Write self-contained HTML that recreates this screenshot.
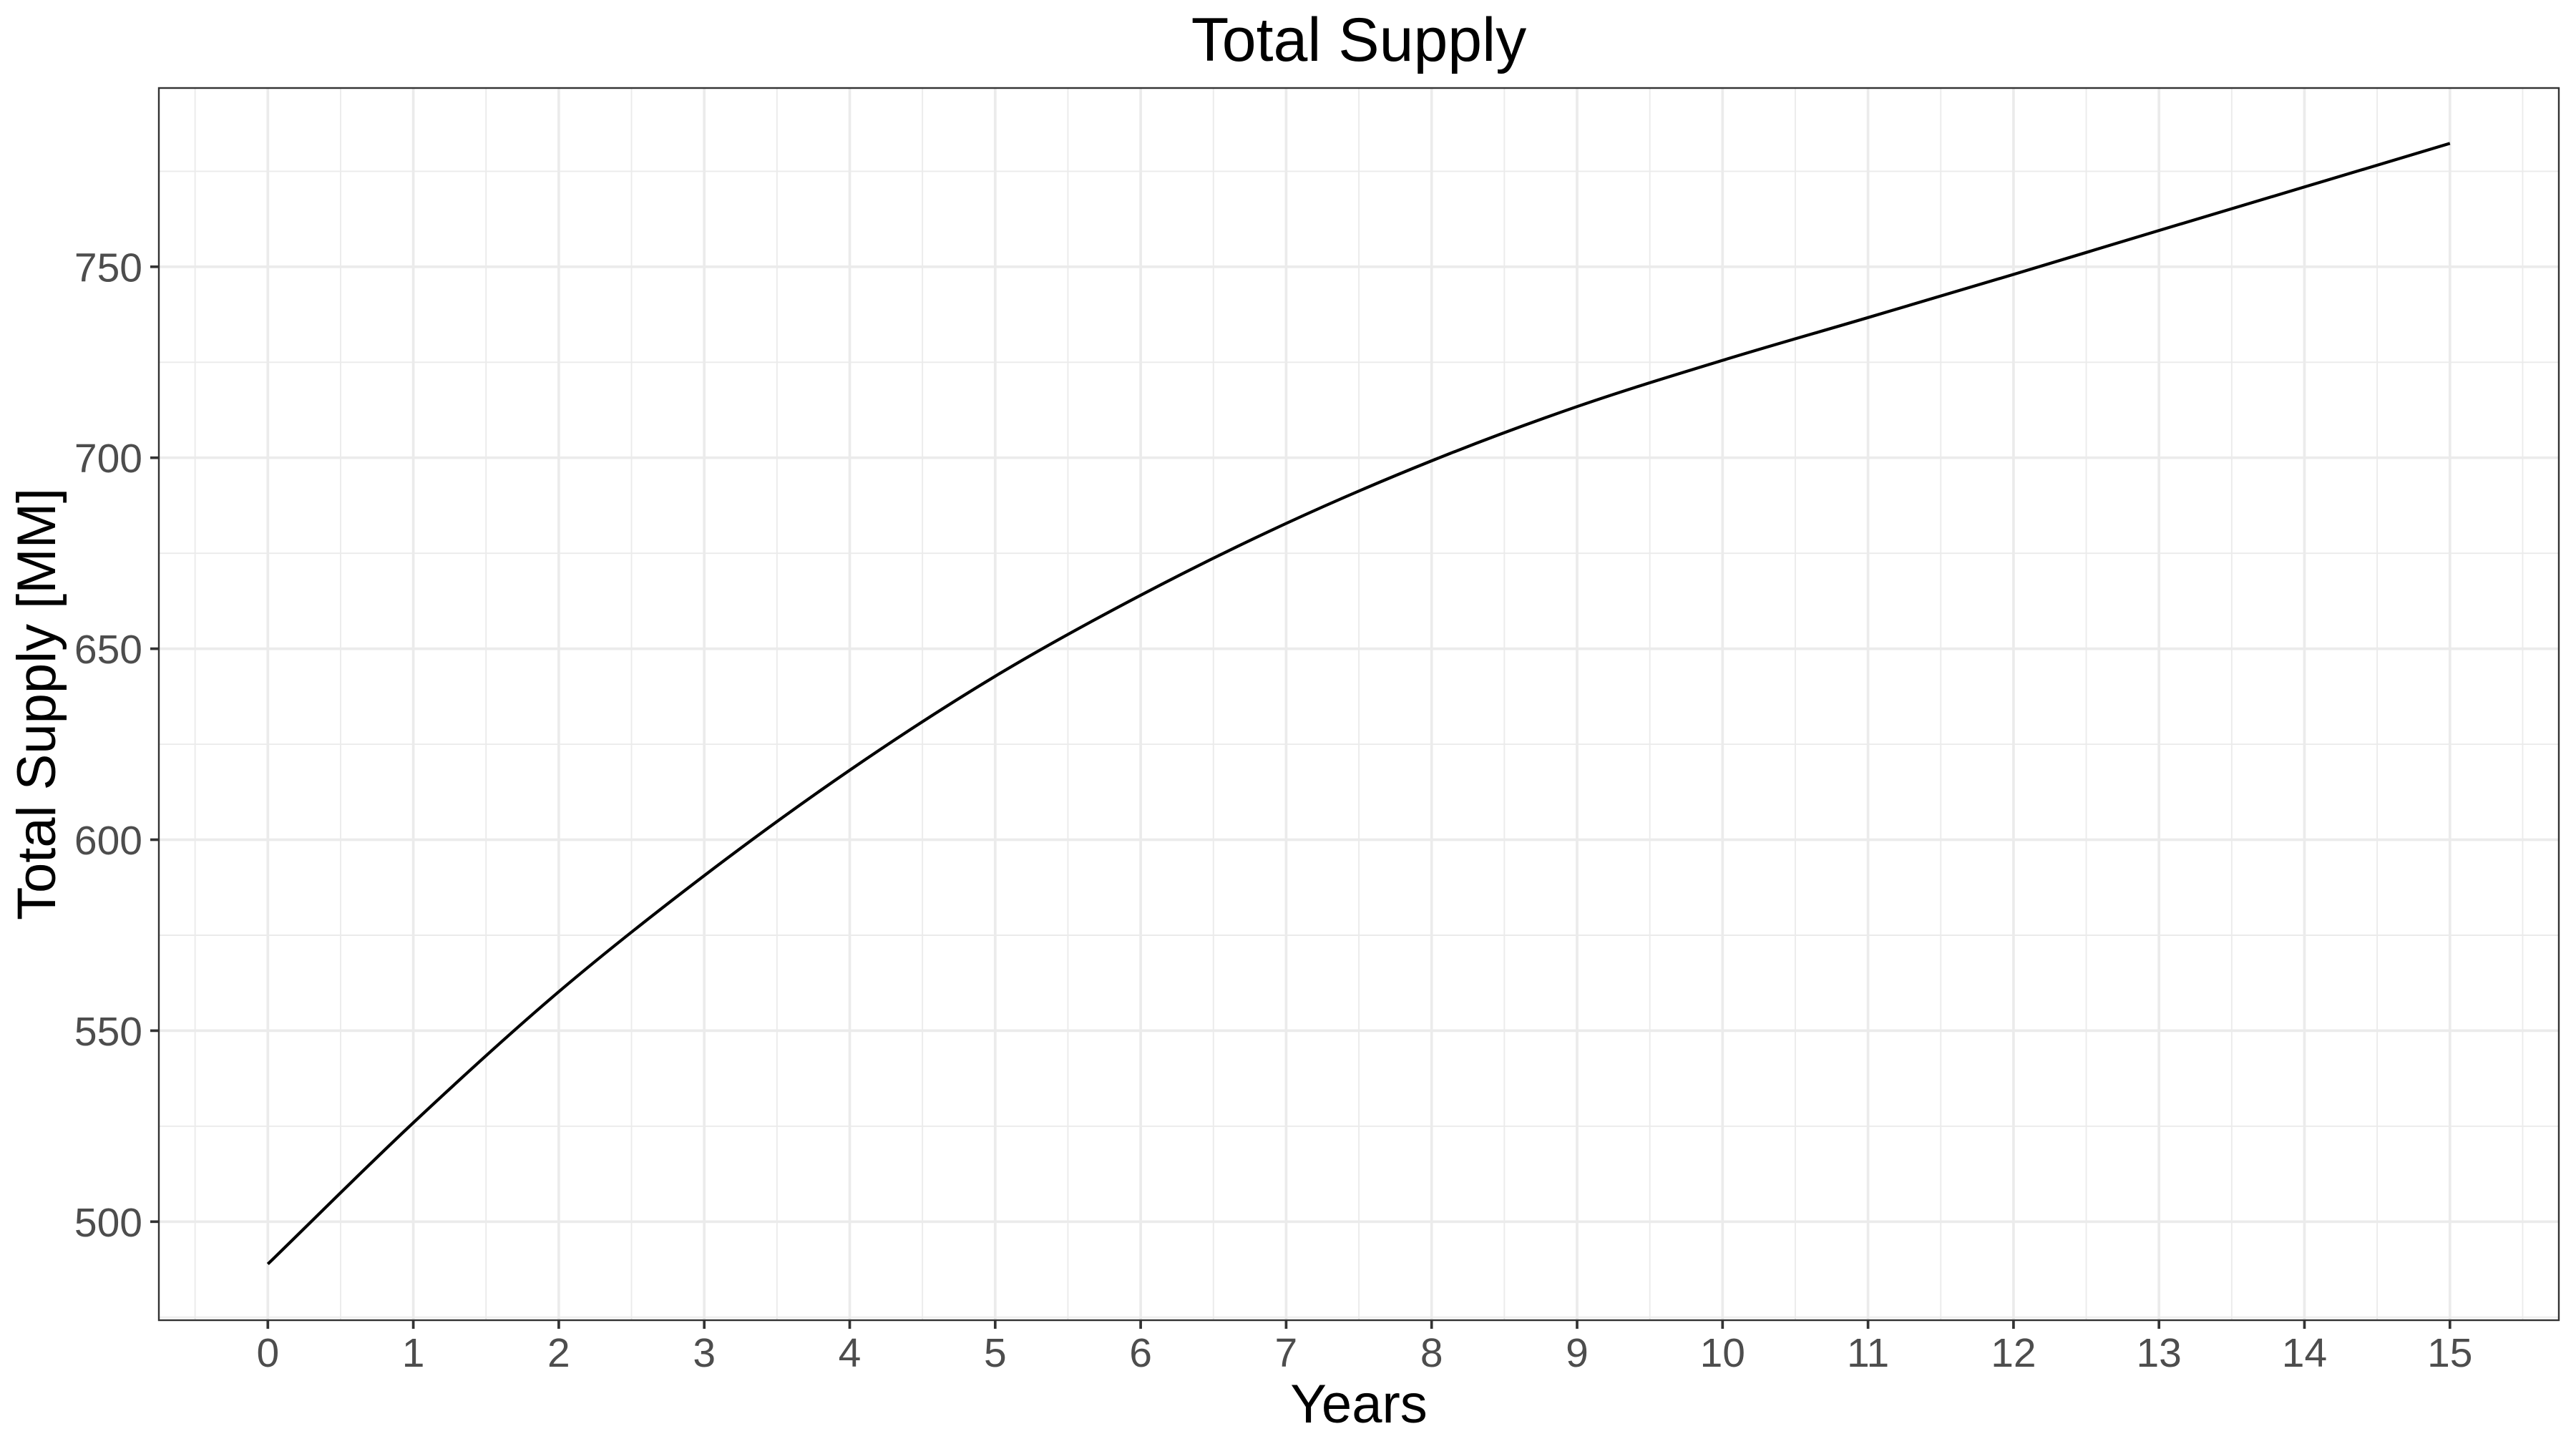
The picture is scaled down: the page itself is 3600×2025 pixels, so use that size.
<!DOCTYPE html>
<html>
<head>
<meta charset="utf-8">
<style>
  html, body { margin: 0; padding: 0; background: #ffffff; }
  svg { display: block; }
  text { font-family: "Liberation Sans", Arial, Helvetica, sans-serif; }
</style>
</head>
<body>
<svg width="3600" height="2025" viewBox="0 0 3600 2025" xmlns="http://www.w3.org/2000/svg">
  <rect x="0" y="0" width="3600" height="2025" fill="#ffffff"/>
  <rect x="222" y="123" width="3354" height="1722" fill="#ffffff"/>

  <!-- minor gridlines (horizontal) -->
  <g stroke="#EBEBEB" stroke-width="1.9" fill="none">
    <line x1="222" x2="3576" y1="1840.8" y2="1840.8"/>
    <line x1="222" x2="3576" y1="1573.9" y2="1573.9"/>
    <line x1="222" x2="3576" y1="1307.0" y2="1307.0"/>
    <line x1="222" x2="3576" y1="1040.1" y2="1040.1"/>
    <line x1="222" x2="3576" y1="773.2" y2="773.2"/>
    <line x1="222" x2="3576" y1="506.3" y2="506.3"/>
    <line x1="222" x2="3576" y1="239.4" y2="239.4"/>
  </g>
  <!-- minor gridlines (vertical) -->
  <g stroke="#EBEBEB" stroke-width="1.9" fill="none">
    <line y1="123" y2="1845" x1="272.65" x2="272.65"/>
    <line y1="123" y2="1845" x1="475.95" x2="475.95"/>
    <line y1="123" y2="1845" x1="679.25" x2="679.25"/>
    <line y1="123" y2="1845" x1="882.55" x2="882.55"/>
    <line y1="123" y2="1845" x1="1085.85" x2="1085.85"/>
    <line y1="123" y2="1845" x1="1289.15" x2="1289.15"/>
    <line y1="123" y2="1845" x1="1492.45" x2="1492.45"/>
    <line y1="123" y2="1845" x1="1695.75" x2="1695.75"/>
    <line y1="123" y2="1845" x1="1899.05" x2="1899.05"/>
    <line y1="123" y2="1845" x1="2102.35" x2="2102.35"/>
    <line y1="123" y2="1845" x1="2305.65" x2="2305.65"/>
    <line y1="123" y2="1845" x1="2508.95" x2="2508.95"/>
    <line y1="123" y2="1845" x1="2712.25" x2="2712.25"/>
    <line y1="123" y2="1845" x1="2915.55" x2="2915.55"/>
    <line y1="123" y2="1845" x1="3118.85" x2="3118.85"/>
    <line y1="123" y2="1845" x1="3322.15" x2="3322.15"/>
    <line y1="123" y2="1845" x1="3525.45" x2="3525.45"/>
  </g>

  <!-- major gridlines (horizontal) -->
  <g stroke="#EBEBEB" stroke-width="3.7" fill="none">
    <line x1="222" x2="3576" y1="1707.3" y2="1707.3"/>
    <line x1="222" x2="3576" y1="1440.4" y2="1440.4"/>
    <line x1="222" x2="3576" y1="1173.5" y2="1173.5"/>
    <line x1="222" x2="3576" y1="906.6" y2="906.6"/>
    <line x1="222" x2="3576" y1="639.7" y2="639.7"/>
    <line x1="222" x2="3576" y1="372.8" y2="372.8"/>
  </g>
  <!-- major gridlines (vertical) -->
  <g stroke="#EBEBEB" stroke-width="3.7" fill="none">
    <line y1="123" y2="1845" x1="374.3" x2="374.3"/>
    <line y1="123" y2="1845" x1="577.6" x2="577.6"/>
    <line y1="123" y2="1845" x1="780.9" x2="780.9"/>
    <line y1="123" y2="1845" x1="984.2" x2="984.2"/>
    <line y1="123" y2="1845" x1="1187.5" x2="1187.5"/>
    <line y1="123" y2="1845" x1="1390.8" x2="1390.8"/>
    <line y1="123" y2="1845" x1="1594.1" x2="1594.1"/>
    <line y1="123" y2="1845" x1="1797.4" x2="1797.4"/>
    <line y1="123" y2="1845" x1="2000.7" x2="2000.7"/>
    <line y1="123" y2="1845" x1="2204.0" x2="2204.0"/>
    <line y1="123" y2="1845" x1="2407.3" x2="2407.3"/>
    <line y1="123" y2="1845" x1="2610.6" x2="2610.6"/>
    <line y1="123" y2="1845" x1="2813.9" x2="2813.9"/>
    <line y1="123" y2="1845" x1="3017.2" x2="3017.2"/>
    <line y1="123" y2="1845" x1="3220.5" x2="3220.5"/>
    <line y1="123" y2="1845" x1="3423.8" x2="3423.8"/>
  </g>

  <!-- data line (smooth) -->
  <path fill="none" stroke="#000000" stroke-width="4.2" stroke-linejoin="round" stroke-linecap="butt"
    d="M374.3,1766.55
       C442.07,1700.72 509.83,1632.48 577.6,1569.05
       C645.37,1505.62 713.13,1443.51 780.9,1385.95
       C848.67,1328.39 916.43,1275.3 984.2,1223.7
       C1051.97,1172.1 1119.73,1122.79 1187.5,1076.35
       C1255.27,1029.91 1323.03,985.8 1390.8,945.05
       C1458.57,904.3 1526.33,867.44 1594.1,831.85
       C1661.87,796.26 1729.63,762.81 1797.4,731.5
       C1865.17,700.19 1932.93,671.22 2000.7,644.0
       C2068.47,616.78 2136.23,591.6 2204.0,568.2
       C2271.77,544.8 2339.53,524.33 2407.3,503.6
       C2475.07,482.87 2542.83,463.82 2610.6,443.8
       C2678.37,423.78 2746.13,403.78 2813.9,383.5
       C2881.67,363.22 2949.43,342.47 3017.2,322.1
       C3084.97,301.73 3152.73,281.58 3220.5,261.3
       C3288.27,241.02 3356.03,220.7 3423.8,200.4"/>

  <!-- panel border -->
  <rect x="222" y="123" width="3354" height="1722" fill="none" stroke="#333333" stroke-width="2.4"/>

  <!-- y ticks -->
  <g stroke="#333333" stroke-width="3.7">
    <line x1="210" x2="222" y1="1707.3" y2="1707.3"/>
    <line x1="210" x2="222" y1="1440.4" y2="1440.4"/>
    <line x1="210" x2="222" y1="1173.5" y2="1173.5"/>
    <line x1="210" x2="222" y1="906.6" y2="906.6"/>
    <line x1="210" x2="222" y1="639.7" y2="639.7"/>
    <line x1="210" x2="222" y1="372.8" y2="372.8"/>
  </g>
  <!-- x ticks -->
  <g stroke="#333333" stroke-width="3.7">
    <line y1="1845" y2="1857" x1="374.3" x2="374.3"/>
    <line y1="1845" y2="1857" x1="577.6" x2="577.6"/>
    <line y1="1845" y2="1857" x1="780.9" x2="780.9"/>
    <line y1="1845" y2="1857" x1="984.2" x2="984.2"/>
    <line y1="1845" y2="1857" x1="1187.5" x2="1187.5"/>
    <line y1="1845" y2="1857" x1="1390.8" x2="1390.8"/>
    <line y1="1845" y2="1857" x1="1594.1" x2="1594.1"/>
    <line y1="1845" y2="1857" x1="1797.4" x2="1797.4"/>
    <line y1="1845" y2="1857" x1="2000.7" x2="2000.7"/>
    <line y1="1845" y2="1857" x1="2204.0" x2="2204.0"/>
    <line y1="1845" y2="1857" x1="2407.3" x2="2407.3"/>
    <line y1="1845" y2="1857" x1="2610.6" x2="2610.6"/>
    <line y1="1845" y2="1857" x1="2813.9" x2="2813.9"/>
    <line y1="1845" y2="1857" x1="3017.2" x2="3017.2"/>
    <line y1="1845" y2="1857" x1="3220.5" x2="3220.5"/>
    <line y1="1845" y2="1857" x1="3423.8" x2="3423.8"/>
  </g>

  <!-- y tick labels -->
  <g fill="#4D4D4D" font-size="57" text-anchor="end">
    <text x="199" y="1727.8">500</text>
    <text x="199" y="1460.9">550</text>
    <text x="199" y="1194.0">600</text>
    <text x="199" y="927.1">650</text>
    <text x="199" y="660.2">700</text>
    <text x="199" y="393.3">750</text>
  </g>

  <!-- x tick labels -->
  <g fill="#4D4D4D" font-size="57" text-anchor="middle">
    <text x="374.3" y="1910">0</text>
    <text x="577.6" y="1910">1</text>
    <text x="780.9" y="1910">2</text>
    <text x="984.2" y="1910">3</text>
    <text x="1187.5" y="1910">4</text>
    <text x="1390.8" y="1910">5</text>
    <text x="1594.1" y="1910">6</text>
    <text x="1797.4" y="1910">7</text>
    <text x="2000.7" y="1910">8</text>
    <text x="2204.0" y="1910">9</text>
    <text x="2407.3" y="1910">10</text>
    <text x="2610.6" y="1910">11</text>
    <text x="2813.9" y="1910">12</text>
    <text x="3017.2" y="1910">13</text>
    <text x="3220.5" y="1910">14</text>
    <text x="3423.8" y="1910">15</text>
  </g>

  <!-- axis titles -->
  <text x="1899" y="1988" font-size="76" fill="#000000" text-anchor="middle">Years</text>
  <text transform="translate(77,984) rotate(-90)" font-size="76" fill="#000000" text-anchor="middle">Total Supply [MM]</text>

  <!-- plot title -->
  <text x="1899" y="85" font-size="86" fill="#000000" text-anchor="middle">Total Supply</text>
</svg>
</body>
</html>
